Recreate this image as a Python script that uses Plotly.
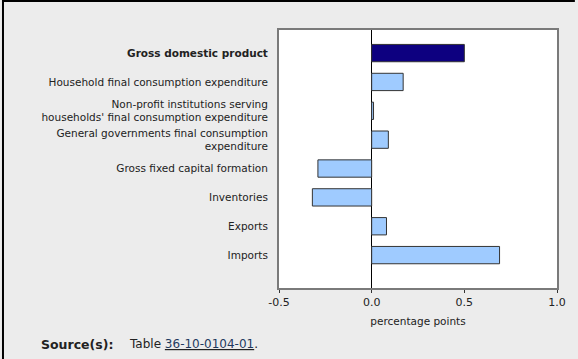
import plotly.graph_objects as go

categories = [
    "<b>Gross domestic product</b>",
    "Household final consumption expenditure",
    "Non-profit institutions serving<br>households' final consumption expenditure",
    "General governments final consumption<br>expenditure",
    "Gross fixed capital formation",
    "Inventories",
    "Exports",
    "Imports",
]
values = [0.50, 0.17, 0.01, 0.09, -0.29, -0.32, 0.08, 0.69]
bar_colors = ["#0d0080"] + ["#9fcbff"] * 7
x_ticks = [-0.5, 0.0, 0.5, 1.0]
x_tick_labels = ["-0.5", "0.0", "0.5", "1.0"]

W, H = 578, 359
L, R, T, B = 279, 19, 30, 71
pw, ph = W - L - R, H - T - B

def px(x):
    return (x - L) / pw

def py(y):
    return 1 - (y - T) / ph

font = "DejaVu Sans, Verdana, sans-serif"

fig = go.Figure(
    go.Bar(
        x=values,
        y=categories,
        orientation="h",
        width=0.6,
        marker=dict(color=bar_colors, line=dict(color="#333333", width=1)),
        hoverinfo="x+y",
    )
)

fig.update_layout(
    width=W,
    height=H,
    margin=dict(l=L, r=R, t=T, b=B),
    paper_bgcolor="#ececec",
    plot_bgcolor="#ffffff",
    showlegend=False,
    font=dict(family=font, size=10.5, color="#222222"),
    xaxis=dict(
        range=[-0.5, 1.0],
        tickvals=x_ticks,
        ticktext=x_tick_labels,
        showgrid=False,
        zeroline=True,
        zerolinecolor="#000000",
        zerolinewidth=1,
        showline=True,
        linecolor="#7a7a7a",
        linewidth=2,
        mirror=True,
        ticks="outside",
        ticklen=3,
        tickcolor="#333333",
        tickfont=dict(size=11),
        title=dict(text="percentage points", font=dict(size=10.5), standoff=9),
    ),
    yaxis=dict(
        type="category",
        categoryorder="array",
        categoryarray=categories,
        range=[8.14, -0.8],
        showgrid=False,
        showline=True,
        linecolor="#7a7a7a",
        linewidth=2,
        mirror=True,
        ticks="",
        ticklabelstandoff=7,
        tickfont=dict(size=10.5),
    ),
    shapes=[
        dict(type="line", xref="paper", yref="paper",
             x0=px(0), x1=px(W - 1), y0=py(1), y1=py(1),
             line=dict(color="#000000", width=2)),
        dict(type="line", xref="paper", yref="paper",
             x0=px(1), x1=px(1), y0=py(0), y1=py(H),
             line=dict(color="#000000", width=2)),
    ],
    annotations=[
        dict(xref="paper", yref="paper", x=px(37), y=py(344),
             xanchor="left", yanchor="middle", showarrow=False,
             text="<b>Source(s):</b>", font=dict(size=12.5, color="#222222")),
        dict(xref="paper", yref="paper", x=px(126), y=py(344),
             xanchor="left", yanchor="middle", showarrow=False,
             text="Table <u><span style='color:#1f3a60'>36-10-0104-01</span></u>.",
             font=dict(size=12, color="#222222")),
    ],
)

fig.write_html(
    "out.html",
    config={"displayModeBar": False},
    post_script=(
        "document.body.style.margin='0';"
        "document.body.style.overflow='hidden';"
        "document.documentElement.style.overflow='hidden';"
    ),
)
